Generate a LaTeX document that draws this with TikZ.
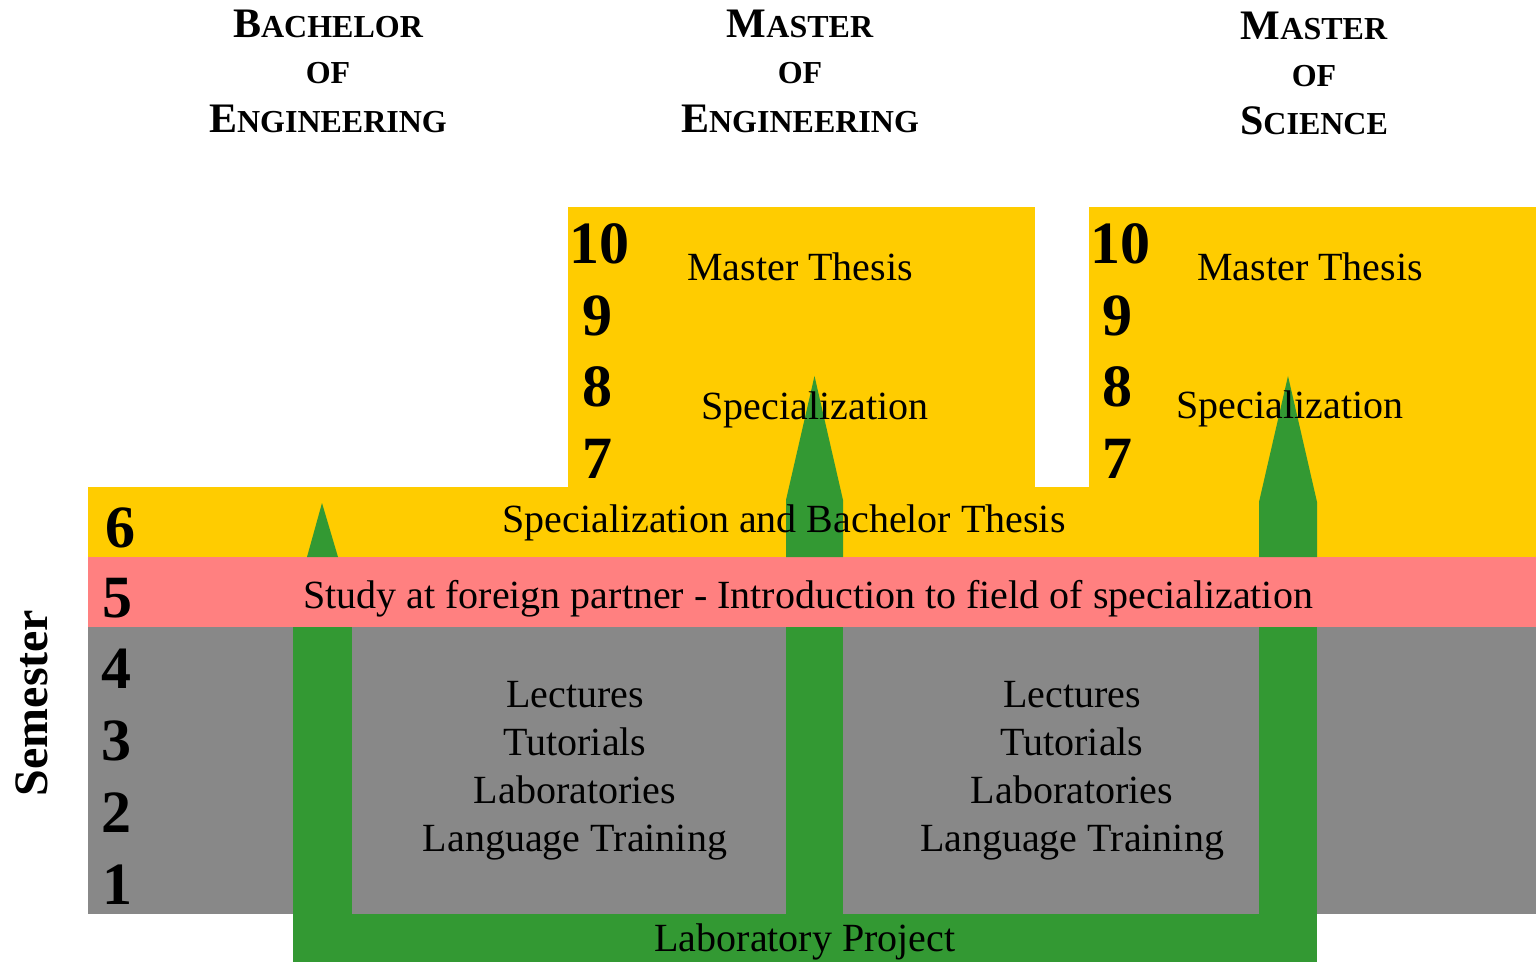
\documentclass[tikz,border=0pt]{standalone}
\usepackage{fontspec}
\setmainfont{Liberation Serif}
\definecolor{cyel}{RGB}{255,204,0}
\definecolor{cpink}{RGB}{255,128,128}
\definecolor{cgray}{RGB}{136,136,136}
\definecolor{cgreen}{RGB}{51,153,51}
\newcommand\hdrbig{\fontsize{21}{21}\selectfont}
\newcommand\hdrsmall{\fontsize{16}{16}\selectfont}
\tikzset{
  lbl/.style={font=\fontsize{20}{24}\selectfont, inner sep=0pt, anchor=base},
  num/.style={font=\bfseries\fontsize{30}{30}\selectfont, inner sep=0pt, anchor=base},
  hdr/.style={font=\bfseries, inner sep=0pt, anchor=base},
  greenfill/.style={fill=cgreen},
}
\begin{document}
\begin{tikzpicture}[x=0.5pt,y=-0.5pt]
\useasboundingbox (0,0) rectangle (1536,962);
% background blocks
\fill[cgray] (88,627) rectangle (1536,914);
\fill[cyel] (88,487) rectangle (1536,557);
\fill[cyel] (568,207) rectangle (1035,488);
\fill[cyel] (1089,207) rectangle (1536,488);
% green U-shaped laboratory project path
\fill[greenfill] (293,914) rectangle (1317,962);
\fill[greenfill] (293,620) rectangle (352,914);
\fill[greenfill] (786,540) rectangle (843,914);
\fill[greenfill] (1259,540) rectangle (1317,914);
% pink band
\fill[cpink] (88,557) rectangle (1536,627);
% arrow heads above the pink band
\fill[greenfill] (307,557) -- (322,503) -- (338,557) -- cycle;
\fill[greenfill] (786,557) -- (786,500) -- (814.5,376) -- (843,500) -- (843,557) -- cycle;
\fill[greenfill] (1259,557) -- (1259,502) -- (1288,376) -- (1317,502) -- (1317,557) -- cycle;
% headers
\node[hdr] (h1a) at (328,38) {{\hdrbig B}{\hdrsmall ACHELOR}};
\node[hdr] (h1b) at (328,84) {{\hdrsmall OF}};
\node[hdr] (h1c) at (328,133) {{\hdrbig E}{\hdrsmall NGINEERING}};
\node[hdr] (h2a) at (800,38) {{\hdrbig M}{\hdrsmall ASTER}};
\node[hdr] (h2b) at (800,84) {{\hdrsmall OF}};
\node[hdr] (h2c) at (800,133) {{\hdrbig E}{\hdrsmall NGINEERING}};
\node[hdr] (h3a) at (1314,40) {{\hdrbig M}{\hdrsmall ASTER}};
\node[hdr] (h3b) at (1314,87) {{\hdrsmall OF}};
\node[hdr] (h3c) at (1314,135) {{\hdrbig S}{\hdrsmall CIENCE}};
% semester axis
\node[font=\bfseries\fontsize{24}{24}\selectfont, inner sep=0pt, anchor=base, rotate=90] (sem) at (47,703) {Semester};
\node[num] (s1) at (117,904) {1};
\node[num] (s2) at (116,832) {2};
\node[num] (s3) at (116,760) {3};
\node[num] (s4) at (116,688) {4};
\node[num] (s5) at (117,617) {5};
\node[num] (s6) at (120,547) {6};
\node[num] (m7) at (597,478) {7};
\node[num] (m8) at (597,407) {8};
\node[num] (m9) at (597,336) {9};
\node[num] (m10) at (599,264) {10};
\node[num] (n7) at (1117,478) {7};
\node[num] (n8) at (1117,407) {8};
\node[num] (n9) at (1117,336) {9};
\node[num] (n10) at (1120,264) {10};
% labels
\node[lbl] (mt1) at (800,281) {Master Thesis};
\node[lbl] (mt2) at (1310,281) {Master Thesis};
\node[lbl] (sp1) at (815,420) {Specialization};
\node[lbl] (sp2) at (1290,419) {Specialization};
\node[lbl] (sbt) at (784,532) {Specialization and Bachelor Thesis};
\node[lbl] (sfp) at (808,608) {Study at foreign partner - Introduction to field of specialization};
\node[lbl] (lec1) at (575,707) {Lectures};
\node[lbl] (tut1) at (575,755) {Tutorials};
\node[lbl] (lab1) at (575,803) {Laboratories};
\node[lbl] (lang1) at (575,851) {Language Training};
\node[lbl] (lec2) at (1072,707) {Lectures};
\node[lbl] (tut2) at (1072,755) {Tutorials};
\node[lbl] (lab2) at (1072,803) {Laboratories};
\node[lbl] (lang2) at (1072,851) {Language Training};
\node[lbl] (lp) at (805,951) {Laboratory Project};
\end{tikzpicture}
\end{document}
